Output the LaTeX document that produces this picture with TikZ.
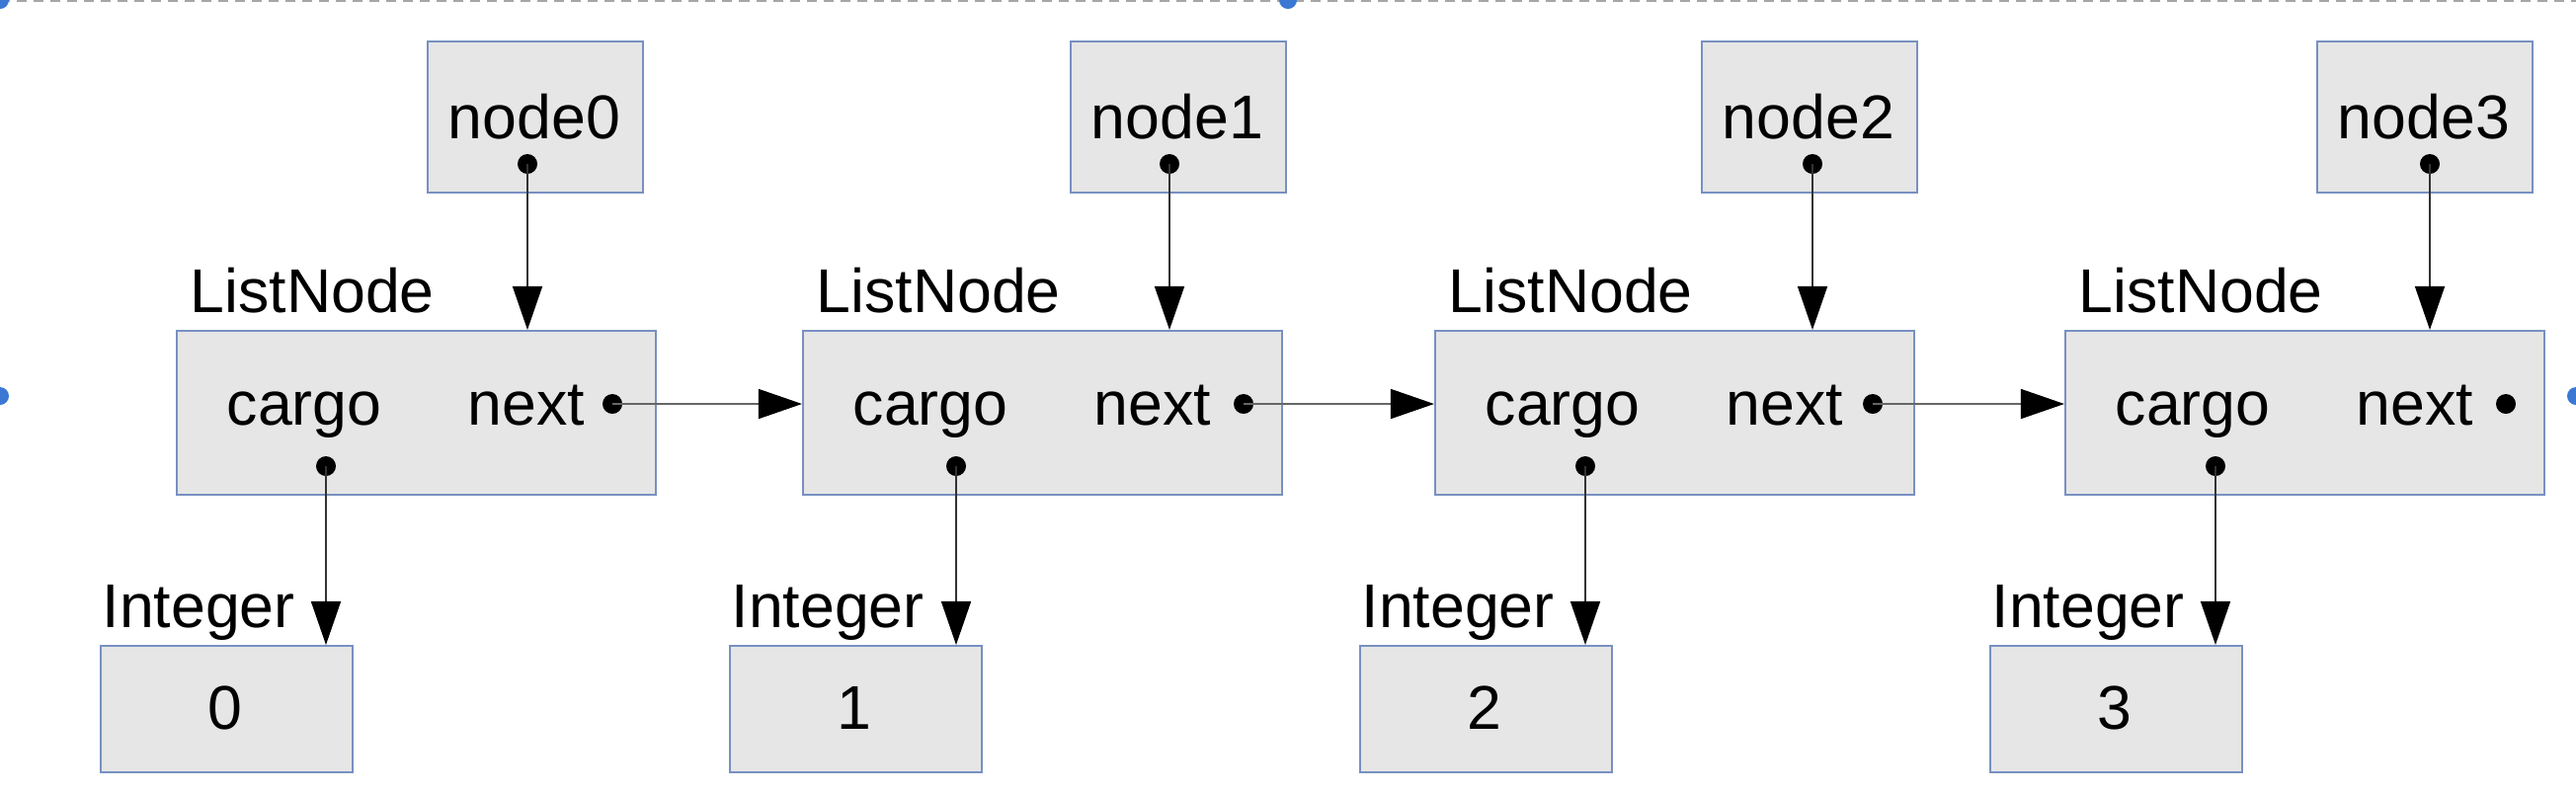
\documentclass[tikz,border=0pt]{standalone}
\usepackage{fontspec}
\setmainfont{Liberation Sans}
\usetikzlibrary{arrows.meta}
\definecolor{boxfill}{HTML}{E6E6E6}
\definecolor{boxline}{HTML}{7890C2}
\definecolor{handle}{HTML}{3A78D4}
\begin{document}
\begin{tikzpicture}[x=0.01cm, y=-0.01cm,
  every node/.style={font=\fontsize{17.8}{21}\selectfont, inner sep=0pt},
  objbox/.style={draw=boxline, fill=boxfill, line width=0.02cm, anchor=north west},
  ptrdot/.style={circle, fill=black, minimum size=0.2cm},
  ptr/.style={draw=black!80, line width=0.015cm, -{Triangle[length=0.44cm, width=0.3cm, color=black]}},
  link/.style={ptr, draw=black!60}]
\useasboundingbox (0,0) rectangle (2608,802);
% selection frame of the drawing
\draw[gray!70, line width=0.02cm, dash pattern=on 0.1cm off 0.07cm] (0,1) -- (2608,1);
\foreach \hx/\hy in {0/0, 1304/0, 0/401, 2608/401}
  \fill[handle] (\hx,\hy) circle (0.09cm);
% one column per list element
\foreach \i/\L/\NL/\A/\N/\C/\I in {0/178/432/534/620/330/101, 1/812/1083/1184/1259/968/738,
    2/1452/1722/1835/1896/1605/1376, 3/2090/2345/2460/2537/2243/2014} {
  \node[objbox, minimum width=2.18cm, minimum height=1.53cm] (var\i) at (\NL,41) {};
  \node[anchor=base] (varname\i) at (\NL+109,140) {node\i};
  \node[ptrdot] (vardot\i) at (\A,166) {};
  \node[objbox, minimum width=4.85cm, minimum height=1.66cm] (ln\i) at (\L,334) {};
  \node[anchor=base west] (lnlabel\i) at (\L+14,316) {ListNode};
  \node[anchor=base west] (cargo\i) at (\L+51,430) {cargo};
  \node[anchor=base west] (next\i) at (\L+295,430) {next};
  \node[ptrdot] (nextdot\i) at (\N,409) {};
  \node[ptrdot] (cargodot\i) at (\C,472) {};
  \node[objbox, minimum width=2.55cm, minimum height=1.28cm] (int\i) at (\I,653) {};
  \node[anchor=base west] (intlabel\i) at (\I+2,635) {Integer};
  \node (val\i) at (\I+127,717) {\i};
  \draw[ptr] (vardot\i.center) -- (vardot\i.center |- ln\i.north);
  \draw[ptr] (cargodot\i.center) -- (cargodot\i.center |- int\i.north);
}
\foreach \i/\j in {0/1,1/2,2/3}
  \draw[link] (nextdot\i.center) -- (nextdot\i.center -| ln\j.west);
\end{tikzpicture}
\end{document}
